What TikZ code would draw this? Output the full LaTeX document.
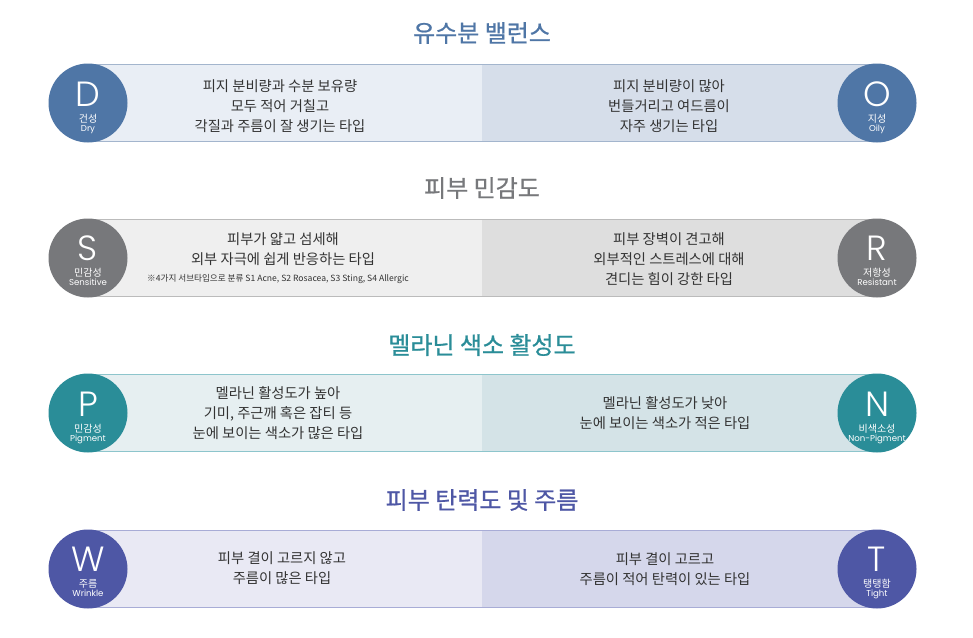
\documentclass[tikz,border=0pt]{standalone}
\usepackage{fontspec}
\setmainfont{Noto Sans CJK KR}
\newfontfamily\pop{Poppins}
\newfontfamily\popl{Poppins Light}
\newfontfamily\ttlfont[FakeBold=0.8]{Noto Sans CJK KR}
\definecolor{cA}{HTML}{4F76A6}\definecolor{lA}{HTML}{E9EEF5}\definecolor{rA}{HTML}{D6DEEA}\definecolor{eA}{HTML}{A3B5CD}
\definecolor{cB}{HTML}{77787B}\definecolor{lB}{HTML}{EFEFEF}\definecolor{rB}{HTML}{DEDEDE}\definecolor{eB}{HTML}{BBBBBB}
\definecolor{cC}{HTML}{2A8D98}\definecolor{lC}{HTML}{E6EFF1}\definecolor{rC}{HTML}{D4E3E7}\definecolor{eC}{HTML}{8DC5CC}
\definecolor{cD}{HTML}{4E57A5}\definecolor{lD}{HTML}{E9E9F4}\definecolor{rD}{HTML}{D5D7EB}\definecolor{eD}{HTML}{A8ACD6}
\definecolor{txt}{HTML}{333333}
\newcommand{\badgetext}[3]{{\popl\fontsize{35}{35}\selectfont #1}\\[7pt]{\fontsize{10}{9}\selectfont #2}\\{\pop\fontsize{8.6}{9}\selectfont #3}}
\tikzset{
 half/.style={rectangle, inner sep=0, minimum height=77pt, minimum width=395pt},
 badge/.style={circle, inner sep=0, minimum size=79pt},
 blabel/.style={text=white, align=center, inner sep=0, anchor=north, font=\fontsize{10}{9}\selectfont},
 body/.style={text=txt, align=center, font=\fontsize{14.3}{20}\selectfont, inner sep=0},
 note/.style={text=txt, font=\fontsize{8.6}{9}\selectfont, inner sep=0},
 ttl/.style={font=\ttlfont\fontsize{24}{24}\selectfont, inner sep=0},
 edge/.style={line width=0.8pt},
}
\begin{document}
\begin{tikzpicture}[x=1pt,y=-1pt]
\useasboundingbox[fill=white] (0,0) rectangle (973,637);

% ---------- Row 1
\node[ttl, text=cA] (t1) at (482,33) {유수분 밸런스};
\node[half, fill=lA] (b1l) at (285,103) {};
\node[half, fill=rA] (b1r) at (679.5,103) {};
\draw[edge, eA] (b1l.north west) -- (b1r.north east);
\draw[edge, eA] (b1l.south west) -- (b1r.south east);
\node[badge, fill=cA] (c1l) at (88,103) {};
\node[badge, fill=cA] (c1r) at (877,103) {};
\node[blabel] (c1lT) at (88,81.5) {\badgetext{D}{건성}{Dry}};
\node[blabel] (c1rT) at (877,81.5) {\badgetext{O}{지성}{Oily}};
\node[body] (x1l) at (280,106) {피지 분비량과 수분 보유량\\모두 적어 거칠고\\각질과 주름이 잘 생기는 타입};
\node[body] (x1r) at (669,106) {피지 분비량이 많아\\번들거리고 여드름이\\자주 생기는 타입};

% ---------- Row 2
\node[ttl, text=cB] (t2) at (482,188) {피부 민감도};
\node[half, fill=lB] (b2l) at (285,258) {};
\node[half, fill=rB] (b2r) at (679.5,258) {};
\draw[edge, eB] (b2l.north west) -- (b2r.north east);
\draw[edge, eB] (b2l.south west) -- (b2r.south east);
\node[badge, fill=cB] (c2l) at (88,258) {};
\node[badge, fill=cB] (c2r) at (877,258) {};
\node[blabel] (c2lT) at (88,235.5) {\badgetext{S}{민감성}{Sensitive}};
\node[blabel] (c2rT) at (877,235.5) {\badgetext{R}{저항성}{Resistant}};
\node[body] (x2l) at (283,249) {피부가 얇고 섬세해\\외부 자극에 쉽게 반응하는 타입};
\node[note] (x2n) at (278,279) {※4가지 서브타입으로 분류 S1 Acne, S2 Rosacea, S3 Sting, S4 Allergic};
\node[body] (x2r) at (669,259) {피부 장벽이 견고해\\외부적인 스트레스에 대해\\견디는 힘이 강한 타입};

% ---------- Row 3
\node[ttl, text=cC] (t3) at (482,345) {멜라닌 색소 활성도};
\node[half, fill=lC] (b3l) at (285,413) {};
\node[half, fill=rC] (b3r) at (679.5,413) {};
\draw[edge, eC] (b3l.north west) -- (b3r.north east);
\draw[edge, eC] (b3l.south west) -- (b3r.south east);
\node[badge, fill=cC] (c3l) at (88,413) {};
\node[badge, fill=cC] (c3r) at (877,413) {};
\node[blabel] (c3lT) at (88,391.5) {\badgetext{P}{민감성}{Pigment}};
\node[blabel] (c3rT) at (877,391.5) {\badgetext{N}{비색소성}{Non-Pigment}};
\node[body] (x3l) at (278,413) {멜라닌 활성도가 높아\\기미, 주근깨 혹은 잡티 등\\눈에 보이는 색소가 많은 타입};
\node[body] (x3r) at (665,413) {멜라닌 활성도가 낮아\\눈에 보이는 색소가 적은 타입};

% ---------- Row 4
\node[ttl, text=cD] (t4) at (482,500) {피부 탄력도 및 주름};
\node[half, fill=lD] (b4l) at (285,569) {};
\node[half, fill=rD] (b4r) at (679.5,569) {};
\draw[edge, eD] (b4l.north west) -- (b4r.north east);
\draw[edge, eD] (b4l.south west) -- (b4r.south east);
\node[badge, fill=cD] (c4l) at (88,569) {};
\node[badge, fill=cD] (c4r) at (877,569) {};
\node[blabel] (c4lT) at (88,546.5) {\badgetext{W}{주름}{Wrinkle}};
\node[blabel] (c4rT) at (877,546.5) {\badgetext{T}{탱탱함}{Tight}};
\node[body] (x4l) at (282,568) {피부 결이 고르지 않고\\주름이 많은 타입};
\node[body] (x4r) at (665,569) {피부 결이 고르고\\주름이 적어 탄력이 있는 타입};
\end{tikzpicture}
\end{document}
